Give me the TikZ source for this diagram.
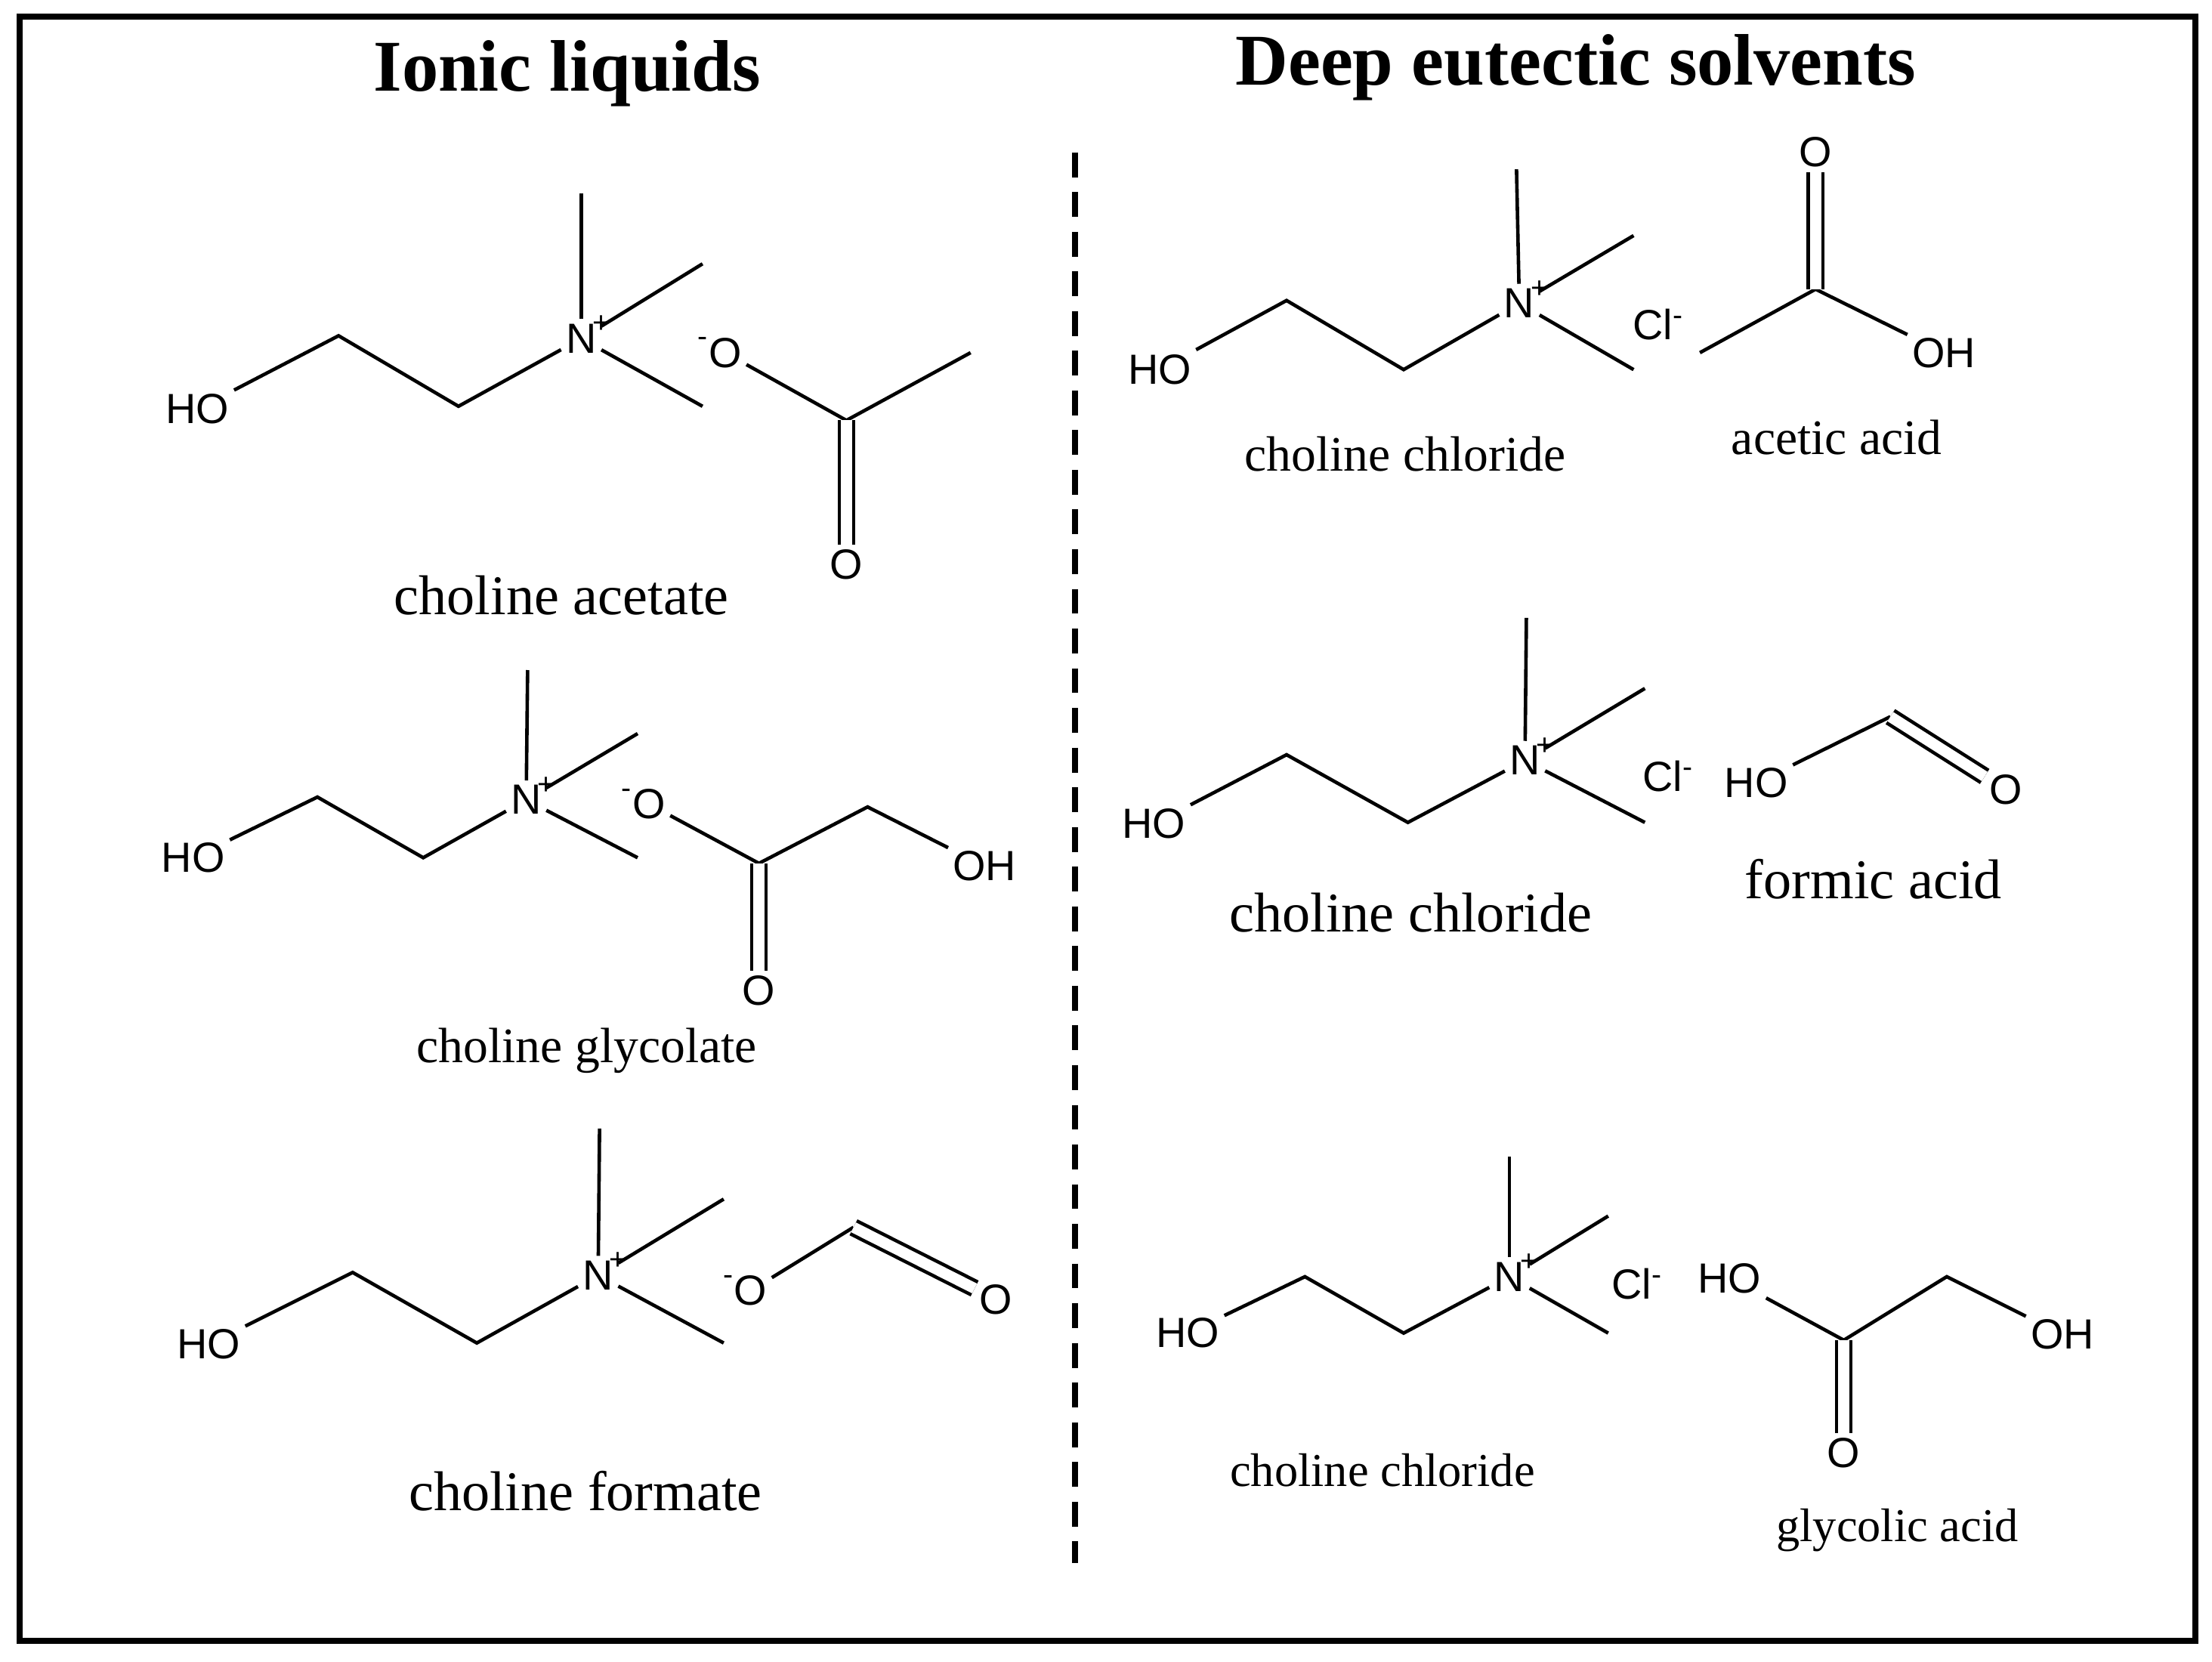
\documentclass[tikz,border=0pt]{standalone}
\usepackage{fontspec}
\setmainfont{Liberation Serif}
\newfontfamily\atomfont{Liberation Sans}
\tikzset{
  bond/.style={line width=0.7pt},
  dbl/.style={line width=0.7pt, double, double distance=2.2pt},
  atom/.style={font=\atomfont\fontsize{8.5}{9}\selectfont, inner sep=0.8pt},
  chg/.style={font=\atomfont\fontsize{6}{6}\selectfont, inner sep=0pt},
  lbl/.style={font=\fontsize{11.3}{13}\selectfont},
  lblmid/.style={font=\fontsize{10}{12}\selectfont},
  lblbig/.style={font=\fontsize{11.3}{13}\selectfont},
  lblsmall/.style={font=\fontsize{9.5}{11}\selectfont},
  hd/.style={font=\bfseries\fontsize{14.7}{16}\selectfont}
}
\begin{document}
\begin{tikzpicture}[x=0.01cm,y=-0.01cm]
    \useasboundingbox (0,0) rectangle (1568,1178);
    \draw[line width=1.2pt] (14,12) rectangle (1556,1163);
    \node[hd] (t1) at (402,52) {Ionic liquids};
    \node[hd] (t2) at (1117,48) {Deep eutectic solvents};
    \coordinate (d1) at (762,108);
    \coordinate (d2) at (762,1108);
    \draw[line width=1.3pt, dash pattern=on 5pt off 3pt] (d1) -- (d2);
    % choline acetate
    \node[atom] (ho1) at (140,290) {HO};
    \node[atom,label={[chg,xshift=-2pt,yshift=-3pt]north east:+}] (n1) at (412,240) {N};
    \coordinate (a1) at (240,238); \coordinate (a2) at (325,288);
    \coordinate (m1) at (412,137); \coordinate (m2) at (498,187); \coordinate (m3) at (498,288);
    \draw[bond] (ho1) -- (a1) -- (a2) -- (n1);
    \draw[bond] (n1) -- (m1); \draw[bond] (n1) -- (m2); \draw[bond] (n1) -- (m3);
    \node[atom,label={[chg,xshift=1pt,yshift=-3pt]north west:-}] (o1) at (514,250) {O};
    \coordinate (c1) at (600,298); \coordinate (c2) at (688,250);
    \node[atom] (o2) at (600,400) {O};
    \draw[bond] (o1) -- (c1) -- (c2);
    \draw[dbl] (c1) -- (o2);
    \node[lbl] (l1) at (398,422) {choline acetate};
    % choline glycolate
    \node[atom] (ho2) at (137,608) {HO};
    \node[atom,label={[chg,xshift=-2pt,yshift=-3pt]north east:+}] (n2) at (373,567) {N};
    \coordinate (b1) at (225,565); \coordinate (b2) at (300,608);
    \coordinate (m4) at (374,475); \coordinate (m5) at (452,520); \coordinate (m6) at (452,608);
    \draw[bond] (ho2) -- (b1) -- (b2) -- (n2);
    \draw[bond] (n2) -- (m4); \draw[bond] (n2) -- (m5); \draw[bond] (n2) -- (m6);
    \node[atom,label={[chg,xshift=1pt,yshift=-3pt]north west:-}] (o3) at (460,570) {O};
    \coordinate (c3) at (538,612); \coordinate (c4) at (615,572);
    \node[atom] (oh1) at (698,614) {OH};
    \node[atom] (o4) at (538,702) {O};
    \draw[bond] (o3) -- (c3) -- (c4) -- (oh1);
    \draw[dbl] (c3) -- (o4);
    \node[lblmid] (l2) at (416,745) {choline glycolate};
    % choline formate
    \node[atom] (ho3) at (148,953) {HO};
    \node[atom,label={[chg,xshift=-2pt,yshift=-3pt]north east:+}] (n3) at (424,904) {N};
    \coordinate (e1) at (250,902); \coordinate (e2) at (338,952);
    \coordinate (m7) at (425,800); \coordinate (m8) at (513,850); \coordinate (m9) at (513,952);
    \draw[bond] (ho3) -- (e1) -- (e2) -- (n3);
    \draw[bond] (n3) -- (m7); \draw[bond] (n3) -- (m8); \draw[bond] (n3) -- (m9);
    \node[atom,label={[chg,xshift=1pt,yshift=-3pt]north west:-}] (o5) at (532,915) {O};
    \coordinate (c5) at (605,870);
    \node[atom] (o6) at (706,921) {O};
    \draw[bond] (o5) -- (c5);
    \draw[dbl] (c5) -- (o6);
    \node[lblbig] (l3) at (415,1057) {choline formate};
    % choline chloride + acetic acid
    \node[atom] (ho4) at (822,262) {HO};
    \node[atom,label={[chg,xshift=-2pt,yshift=-3pt]north east:+}] (n4) at (1077,215) {N};
    \coordinate (f1) at (912,213); \coordinate (f2) at (995,262);
    \coordinate (m10) at (1075,120); \coordinate (m11) at (1158,167); \coordinate (m12) at (1158,262);
    \draw[bond] (ho4) -- (f1) -- (f2) -- (n4);
    \draw[bond] (n4) -- (m10); \draw[bond] (n4) -- (m11); \draw[bond] (n4) -- (m12);
    \node[atom] (cl1) at (1176,230) {Cl\textsuperscript{-}};
    \coordinate (c6) at (1205,250); \coordinate (c7) at (1287,205);
    \node[atom] (o7) at (1287,108) {O};
    \node[atom] (oh2) at (1378,250) {OH};
    \draw[bond] (c6) -- (c7) -- (oh2);
    \draw[dbl] (c7) -- (o7);
    \node[lblmid] (l4) at (996,322) {choline chloride};
    \node[lblmid] (l5) at (1302,310) {acetic acid};
    % choline chloride + formic acid
    \node[atom] (ho5) at (818,584) {HO};
    \node[atom,label={[chg,xshift=-2pt,yshift=-3pt]north east:+}] (n5) at (1081,539) {N};
    \coordinate (g1) at (912,535); \coordinate (g2) at (998,583);
    \coordinate (m13) at (1082,438); \coordinate (m14) at (1166,488); \coordinate (m15) at (1166,583);
    \draw[bond] (ho5) -- (g1) -- (g2) -- (n5);
    \draw[bond] (n5) -- (m13); \draw[bond] (n5) -- (m14); \draw[bond] (n5) -- (m15);
    \node[atom] (cl2) at (1183,550) {Cl\textsuperscript{-}};
    \node[atom] (ho6) at (1245,555) {HO};
    \coordinate (c8) at (1340,508);
    \node[atom] (o8) at (1422,560) {O};
    \draw[bond] (ho6) -- (c8);
    \draw[dbl] (c8) -- (o8);
    \node[lbl] (l6) at (1000,647) {choline chloride};
    \node[lbl] (l7) at (1328,623) {formic acid};
    % choline chloride + glycolic acid
    \node[atom] (ho7) at (842,945) {HO};
    \node[atom,label={[chg,xshift=-2pt,yshift=-3pt]north east:+}] (n6) at (1070,905) {N};
    \coordinate (h1) at (925,905); \coordinate (h2) at (995,945);
    \coordinate (m16) at (1070,820); \coordinate (m17) at (1140,862); \coordinate (m18) at (1140,945);
    \draw[bond] (ho7) -- (h1) -- (h2) -- (n6);
    \draw[bond] (n6) -- (m16); \draw[bond] (n6) -- (m17); \draw[bond] (n6) -- (m18);
    \node[atom] (cl3) at (1161,910) {Cl\textsuperscript{-}};
    \node[atom] (ho8) at (1226,906) {HO};
    \coordinate (c9) at (1307,950); \coordinate (c10) at (1380,905);
    \node[atom] (oh3) at (1462,946) {OH};
    \node[atom] (o9) at (1307,1030) {O};
    \draw[bond] (ho8) -- (c9) -- (c10) -- (oh3);
    \draw[dbl] (c9) -- (o9);
    \node[lblsmall] (l8) at (980,1042) {choline chloride};
    \node[lblsmall] (l9) at (1345,1085) {glycolic acid};
\end{tikzpicture}
\end{document}
